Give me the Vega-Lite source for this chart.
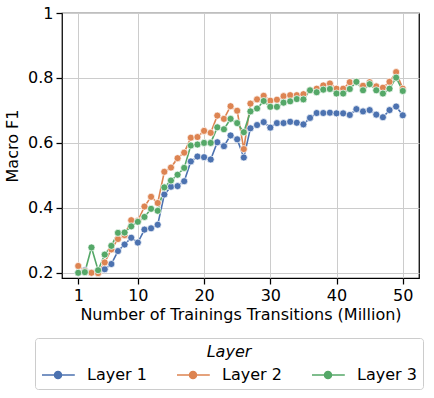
{
  "$schema": "https://vega.github.io/schema/vega-lite/v6.json",
  "width": 357,
  "height": 265,
  "autosize": "none",
  "padding": {"left": 62, "top": 13, "right": 15, "bottom": 120},
  "background": "white",
  "config": {
    "font": "DejaVu Sans",
    "view": {"stroke": "black", "strokeWidth": 1.25},
    "axis": {
      "domain": false,
      "grid": true,
      "gridColor": "#cccccc",
      "gridWidth": 1,
      "tickColor": "black",
      "tickWidth": 1.25,
      "tickSize": 6,
      "labelColor": "black",
      "titleColor": "black",
      "labelFontSize": 16,
      "titleFontSize": 16,
      "titleFontWeight": "normal",
      "labelPadding": 3
    }
  },
  "datasets": {
    "d": [
      {"x":1,"layer":"Layer 1","f1":0.200},{"x":2,"layer":"Layer 1","f1":0.208},{"x":3,"layer":"Layer 1","f1":0.200},{"x":4,"layer":"Layer 1","f1":0.205},{"x":5,"layer":"Layer 1","f1":0.211},{"x":6,"layer":"Layer 1","f1":0.227},{"x":7,"layer":"Layer 1","f1":0.267},{"x":8,"layer":"Layer 1","f1":0.287},{"x":9,"layer":"Layer 1","f1":0.308},{"x":10,"layer":"Layer 1","f1":0.293},
      {"x":11,"layer":"Layer 1","f1":0.333},{"x":12,"layer":"Layer 1","f1":0.337},{"x":13,"layer":"Layer 1","f1":0.348},{"x":14,"layer":"Layer 1","f1":0.441},{"x":15,"layer":"Layer 1","f1":0.465},{"x":16,"layer":"Layer 1","f1":0.467},{"x":17,"layer":"Layer 1","f1":0.482},{"x":18,"layer":"Layer 1","f1":0.543},{"x":19,"layer":"Layer 1","f1":0.558},{"x":20,"layer":"Layer 1","f1":0.556},
      {"x":21,"layer":"Layer 1","f1":0.549},{"x":22,"layer":"Layer 1","f1":0.602},{"x":23,"layer":"Layer 1","f1":0.590},{"x":24,"layer":"Layer 1","f1":0.623},{"x":25,"layer":"Layer 1","f1":0.611},{"x":26,"layer":"Layer 1","f1":0.555},{"x":27,"layer":"Layer 1","f1":0.645},{"x":28,"layer":"Layer 1","f1":0.655},{"x":29,"layer":"Layer 1","f1":0.664},{"x":30,"layer":"Layer 1","f1":0.647},
      {"x":31,"layer":"Layer 1","f1":0.661},{"x":32,"layer":"Layer 1","f1":0.661},{"x":33,"layer":"Layer 1","f1":0.665},{"x":34,"layer":"Layer 1","f1":0.662},{"x":35,"layer":"Layer 1","f1":0.657},{"x":36,"layer":"Layer 1","f1":0.677},{"x":37,"layer":"Layer 1","f1":0.692},{"x":38,"layer":"Layer 1","f1":0.692},{"x":39,"layer":"Layer 1","f1":0.693},{"x":40,"layer":"Layer 1","f1":0.691},
      {"x":41,"layer":"Layer 1","f1":0.691},{"x":42,"layer":"Layer 1","f1":0.686},{"x":43,"layer":"Layer 1","f1":0.704},{"x":44,"layer":"Layer 1","f1":0.697},{"x":45,"layer":"Layer 1","f1":0.701},{"x":46,"layer":"Layer 1","f1":0.687},{"x":47,"layer":"Layer 1","f1":0.679},{"x":48,"layer":"Layer 1","f1":0.701},{"x":49,"layer":"Layer 1","f1":0.712},{"x":50,"layer":"Layer 1","f1":0.685},
      {"x":1,"layer":"Layer 2","f1":0.221},{"x":2,"layer":"Layer 2","f1":0.205},{"x":3,"layer":"Layer 2","f1":0.200},{"x":4,"layer":"Layer 2","f1":0.199},{"x":5,"layer":"Layer 2","f1":0.232},{"x":6,"layer":"Layer 2","f1":0.272},{"x":7,"layer":"Layer 2","f1":0.304},{"x":8,"layer":"Layer 2","f1":0.316},{"x":9,"layer":"Layer 2","f1":0.362},{"x":10,"layer":"Layer 2","f1":0.360},
      {"x":11,"layer":"Layer 2","f1":0.404},{"x":12,"layer":"Layer 2","f1":0.434},{"x":13,"layer":"Layer 2","f1":0.415},{"x":14,"layer":"Layer 2","f1":0.511},{"x":15,"layer":"Layer 2","f1":0.524},{"x":16,"layer":"Layer 2","f1":0.553},{"x":17,"layer":"Layer 2","f1":0.570},{"x":18,"layer":"Layer 2","f1":0.616},{"x":19,"layer":"Layer 2","f1":0.618},{"x":20,"layer":"Layer 2","f1":0.637},
      {"x":21,"layer":"Layer 2","f1":0.631},{"x":22,"layer":"Layer 2","f1":0.684},{"x":23,"layer":"Layer 2","f1":0.674},{"x":24,"layer":"Layer 2","f1":0.713},{"x":25,"layer":"Layer 2","f1":0.699},{"x":26,"layer":"Layer 2","f1":0.581},{"x":27,"layer":"Layer 2","f1":0.721},{"x":28,"layer":"Layer 2","f1":0.734},{"x":29,"layer":"Layer 2","f1":0.745},{"x":30,"layer":"Layer 2","f1":0.730},
      {"x":31,"layer":"Layer 2","f1":0.733},{"x":32,"layer":"Layer 2","f1":0.744},{"x":33,"layer":"Layer 2","f1":0.747},{"x":34,"layer":"Layer 2","f1":0.747},{"x":35,"layer":"Layer 2","f1":0.750},{"x":36,"layer":"Layer 2","f1":0.762},{"x":37,"layer":"Layer 2","f1":0.767},{"x":38,"layer":"Layer 2","f1":0.777},{"x":39,"layer":"Layer 2","f1":0.783},{"x":40,"layer":"Layer 2","f1":0.767},
      {"x":41,"layer":"Layer 2","f1":0.767},{"x":42,"layer":"Layer 2","f1":0.787},{"x":43,"layer":"Layer 2","f1":0.788},{"x":44,"layer":"Layer 2","f1":0.776},{"x":45,"layer":"Layer 2","f1":0.787},{"x":46,"layer":"Layer 2","f1":0.774},{"x":47,"layer":"Layer 2","f1":0.770},{"x":48,"layer":"Layer 2","f1":0.788},{"x":49,"layer":"Layer 2","f1":0.818},{"x":50,"layer":"Layer 2","f1":0.767},
      {"x":1,"layer":"Layer 3","f1":0.200},{"x":2,"layer":"Layer 3","f1":0.202},{"x":3,"layer":"Layer 3","f1":0.278},{"x":4,"layer":"Layer 3","f1":0.208},{"x":5,"layer":"Layer 3","f1":0.256},{"x":6,"layer":"Layer 3","f1":0.283},{"x":7,"layer":"Layer 3","f1":0.323},{"x":8,"layer":"Layer 3","f1":0.324},{"x":9,"layer":"Layer 3","f1":0.343},{"x":10,"layer":"Layer 3","f1":0.357},
      {"x":11,"layer":"Layer 3","f1":0.372},{"x":12,"layer":"Layer 3","f1":0.397},{"x":13,"layer":"Layer 3","f1":0.391},{"x":14,"layer":"Layer 3","f1":0.463},{"x":15,"layer":"Layer 3","f1":0.484},{"x":16,"layer":"Layer 3","f1":0.502},{"x":17,"layer":"Layer 3","f1":0.523},{"x":18,"layer":"Layer 3","f1":0.592},{"x":19,"layer":"Layer 3","f1":0.595},{"x":20,"layer":"Layer 3","f1":0.600},
      {"x":21,"layer":"Layer 3","f1":0.600},{"x":22,"layer":"Layer 3","f1":0.648},{"x":23,"layer":"Layer 3","f1":0.642},{"x":24,"layer":"Layer 3","f1":0.674},{"x":25,"layer":"Layer 3","f1":0.661},{"x":26,"layer":"Layer 3","f1":0.633},{"x":27,"layer":"Layer 3","f1":0.697},{"x":28,"layer":"Layer 3","f1":0.706},{"x":29,"layer":"Layer 3","f1":0.729},{"x":30,"layer":"Layer 3","f1":0.711},
      {"x":31,"layer":"Layer 3","f1":0.711},{"x":32,"layer":"Layer 3","f1":0.724},{"x":33,"layer":"Layer 3","f1":0.728},{"x":34,"layer":"Layer 3","f1":0.735},{"x":35,"layer":"Layer 3","f1":0.734},{"x":36,"layer":"Layer 3","f1":0.762},{"x":37,"layer":"Layer 3","f1":0.756},{"x":38,"layer":"Layer 3","f1":0.764},{"x":39,"layer":"Layer 3","f1":0.766},{"x":40,"layer":"Layer 3","f1":0.752},
      {"x":41,"layer":"Layer 3","f1":0.752},{"x":42,"layer":"Layer 3","f1":0.766},{"x":43,"layer":"Layer 3","f1":0.788},{"x":44,"layer":"Layer 3","f1":0.762},{"x":45,"layer":"Layer 3","f1":0.781},{"x":46,"layer":"Layer 3","f1":0.762},{"x":47,"layer":"Layer 3","f1":0.752},{"x":48,"layer":"Layer 3","f1":0.767},{"x":49,"layer":"Layer 3","f1":0.801},{"x":50,"layer":"Layer 3","f1":0.760}
    ]
  },
  "data": {"name": "d"},
  "encoding": {
    "x": {
      "field": "x", "type": "quantitative",
      "scale": {"domain": [-1.45, 52.45], "nice": false, "zero": false},
      "axis": {"values": [1, 10, 20, 30, 40, 50], "title": "Number of Trainings Transitions (Million)", "titlePadding": 3}
    },
    "y": {
      "field": "f1", "type": "quantitative",
      "scale": {"domain": [0.184, 1.0], "nice": false, "zero": false},
      "axis": {"values": [0.2, 0.4, 0.6, 0.8, 1.0], "format": "~g", "title": "Macro F1", "titlePadding": 7}
    },
    "color": {
      "field": "layer", "type": "nominal",
      "scale": {"domain": ["Layer 1", "Layer 2", "Layer 3"], "range": ["#4c72b0", "#dd8452", "#55a868"]},
      "legend": {
        "title": "Layer",
        "orient": "none",
        "legendX": -27,
        "legendY": 325,
        "direction": "horizontal",
        "columns": 3,
        "titleAnchor": "middle",
        "titleFontStyle": "italic",
        "titleFontWeight": "normal",
        "titleFontSize": 16,
        "titleColor": "black",
        "titlePadding": 6,
        "labelFontSize": 16,
        "labelColor": "black",
        "labelOffset": 28,
        "columnPadding": 27,
        "symbolType": "M-1,0H3.1M1.44,0A0.44,0.44 0 1,1 0.56,0A0.44,0.44 0 1,1 1.44,0Z",
        "symbolSize": 256,
        "symbolStrokeWidth": 1.5,
        "strokeColor": "#cccccc",
        "cornerRadius": 3,
        "padding": 6,
        "encode": {"symbols": {"update": {"fill": {"scale": "color", "field": "value"}, "stroke": {"scale": "color", "field": "value"}, "opacity": {"value": 1}}}}
      }
    }
  },
  "layer": [
    {"mark": {"type": "line", "strokeWidth": 1.6}},
    {"mark": {"type": "point", "filled": true, "size": 50, "opacity": 1, "stroke": "white", "strokeWidth": 0.7}}
  ]
}
